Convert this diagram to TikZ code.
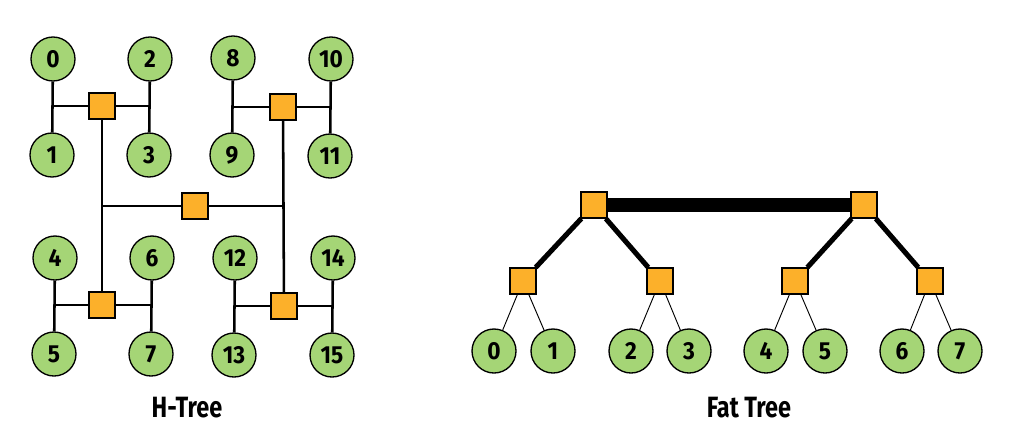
\documentclass[tikz,border=0pt]{standalone}
\usepackage{fontspec}
\setmainfont{Fira Sans}
\newfontfamily\narrowbold[FakeStretch=0.8]{Fira Sans Bold}
\newfontfamily\digitbold[FakeStretch=0.92]{Fira Sans Bold}
\usepackage{tikz}

\definecolor{leafgreen}{RGB}{165,213,118}
\definecolor{switchorange}{RGB}{252,176,42}

\tikzset{
  leaf/.style={circle, draw, line width=1pt, fill=leafgreen, minimum size=33pt, inner sep=0pt,
    font=\fontsize{18.5}{18.5}\digitbold},
  switch/.style={rectangle, draw, line width=0.9pt, fill=switchorange, minimum size=19.5pt, inner sep=0pt},
  hwire/.style={line width=1.9pt},
  fatwire/.style={line width=10.5pt},
  midwire/.style={line width=3.8pt},
  thinwire/.style={line width=0.7pt},
  caption/.style={font=\fontsize{22}{22}\narrowbold}
}

\begin{document}
\begin{tikzpicture}[x=0.75pt,y=0.75pt,yscale=-1]
\path[use as bounding box] (0,0) rectangle (1012,436);

% H-Tree leaves
\node[leaf] (h0) at (53,59) {0};
\node[leaf] (h1) at (52,155) {1};
\node[leaf] (h2) at (150,59) {2};
\node[leaf] (h3) at (149,155) {3};
\node[leaf] (h8) at (233,58) {8};
\node[leaf] (h9) at (232,155) {9};
\node[leaf] (h10) at (331,59) {10};
\node[leaf] (h11) at (330,156) {11};
\node[leaf] (h4) at (55,258) {4};
\node[leaf] (h5) at (54,354) {5};
\node[leaf] (h6) at (152,258) {6};
\node[leaf] (h7) at (151,354) {7};
\node[leaf] (h12) at (235,258) {12};
\node[leaf] (h13) at (234,355) {13};
\node[leaf] (h14) at (333,258) {14};
\node[leaf] (h15) at (332,355) {15};

% H-Tree switches
\node[switch] (hs1) at (102,106) {};
\node[switch] (hs2) at (283,107) {};
\node[switch] (hs3) at (102,305) {};
\node[switch] (hs4) at (284,306) {};
\node[switch] (hs0) at (195,206) {};

% H-Tree wires
\draw[hwire] (h0) -- (h1);
\draw[hwire] (h2) -- (h3);
\draw[hwire] (h8) -- (h9);
\draw[hwire] (h10) -- (h11);
\draw[hwire] (h4) -- (h5);
\draw[hwire] (h6) -- (h7);
\draw[hwire] (h12) -- (h13);
\draw[hwire] (h14) -- (h15);
\draw[hwire] (h0|-hs1) -- (hs1) -- (h2|-hs1);
\draw[hwire] (h8|-hs2) -- (hs2) -- (h10|-hs2);
\draw[hwire] (h4|-hs3) -- (hs3) -- (h6|-hs3);
\draw[hwire] (h12|-hs4) -- (hs4) -- (h14|-hs4);
\draw[hwire] (hs1) -- (hs3);
\draw[hwire] (hs2) -- (hs4);
\draw[hwire] (hs1|-hs0) -- (hs0) -- (hs2|-hs0);

% Fat Tree switches
\node[switch] (ft1) at (594,205) {};
\node[switch] (ft2) at (864,205) {};
\node[switch] (fm1) at (523,281) {};
\node[switch] (fm2) at (660,281) {};
\node[switch] (fm3) at (795,281) {};
\node[switch] (fm4) at (930,281) {};

% Fat Tree leaves
\node[leaf] (f0) at (494,351) {0};
\node[leaf] (f1) at (553,351) {1};
\node[leaf] (f2) at (631,351) {2};
\node[leaf] (f3) at (689,351) {3};
\node[leaf] (f4) at (766,351) {4};
\node[leaf] (f5) at (825,351) {5};
\node[leaf] (f6) at (902,351) {6};
\node[leaf] (f7) at (960,351) {7};

% Fat Tree wires
\draw[fatwire] (ft1) -- (ft2);
\draw[midwire] (ft1) -- (fm1);
\draw[midwire] (ft1) -- (fm2);
\draw[midwire] (ft2) -- (fm3);
\draw[midwire] (ft2) -- (fm4);
\draw[thinwire] (fm1) -- (f0);
\draw[thinwire] (fm1) -- (f1);
\draw[thinwire] (fm2) -- (f2);
\draw[thinwire] (fm2) -- (f3);
\draw[thinwire] (fm3) -- (f4);
\draw[thinwire] (fm3) -- (f5);
\draw[thinwire] (fm4) -- (f6);
\draw[thinwire] (fm4) -- (f7);

% Captions
\node[caption] (htitle) at (187,408) {H-Tree};
\node[caption] (ftitle) at (749,408) {Fat Tree};

\end{tikzpicture}
\end{document}
